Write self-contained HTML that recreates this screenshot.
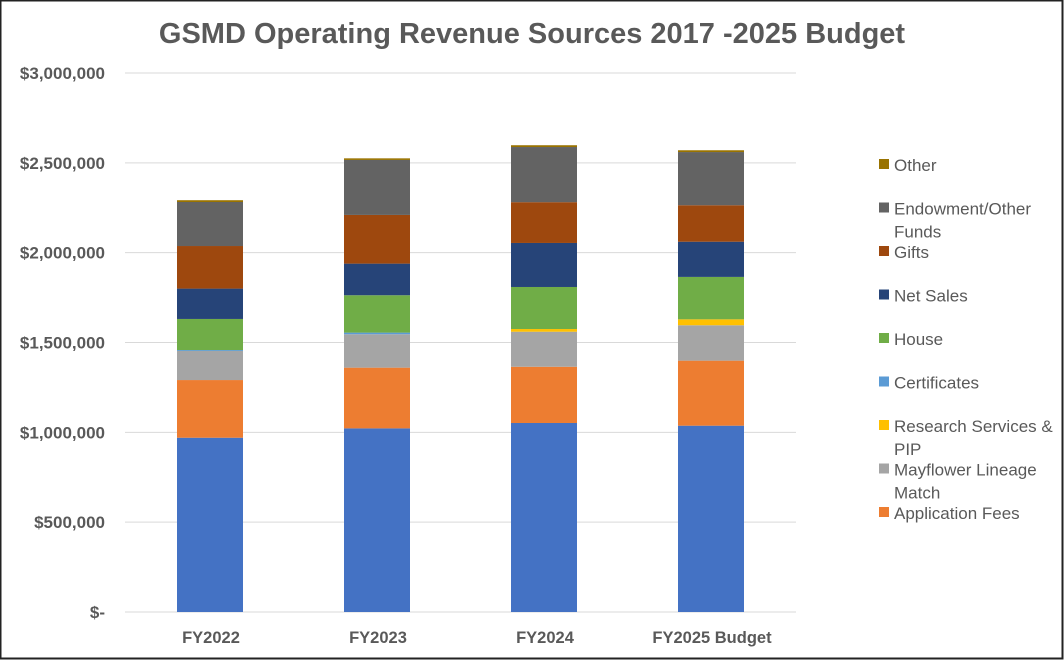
<!DOCTYPE html>
<html><head><meta charset="utf-8"><style>
html,body{margin:0;padding:0;background:#fff}
svg{display:block}
text{font-family:"Liberation Sans",sans-serif}
</style></head><body>
<svg id="chart" width="1064" height="660" viewBox="0 0 1064 660">
<rect x="0.5" y="0.5" width="1062" height="658" fill="#fff" stroke="#222" stroke-width="2"/>
<text x="532" y="43" text-anchor="middle" font-size="29" font-weight="bold" fill="#595959">GSMD Operating Revenue Sources 2017 -2025 Budget</text>
<g id="grid"></g>
<g id="yaxis"></g>
<g id="bars"></g>
<g id="xaxis"></g>
<g id="legend"></g>
</svg>
<script>
const categories = ["FY2022","FY2023","FY2024","FY2025 Budget"];
const seriesNames = ["Dues","Application Fees","Mayflower Lineage Match","Research Services & PIP","Certificates","House","Net Sales","Gifts","Endowment/Other Funds","Other"];
const dues = [970000,1022000,1052000,1037000];
const applicationFees = [321000,338000,313000,362000];
const mayflower = [162000,186000,195000,197000];
const research = [0,0,15000,33000];
const certificates = [5000,9000,0,0];
const house = [173000,208000,234000,236000];
const netSales = [169000,176000,245000,196000];
const gifts = [237000,271000,227000,203000];
const endowment = [245000,306000,307000,296000];
const other = [10000,9000,10000,10000];
const yTicks = [0,500000,1000000,1500000,2000000,2500000,3000000];
const yTickLabels = ["$-","$500,000","$1,000,000","$1,500,000","$2,000,000","$2,500,000","$3,000,000"];

const series = [dues,applicationFees,mayflower,research,certificates,house,netSales,gifts,endowment,other];
const colors = ["#4472C4","#ED7D31","#A5A5A5","#FFC000","#5B9BD5","#70AD47","#264478","#9E480E","#636363","#997300"];
const legendLines = [["Other"],["Endowment/Other","Funds"],["Gifts"],["Net Sales"],["House"],["Certificates"],["Research Services &","PIP"],["Mayflower Lineage","Match"],["Application Fees"]];
const legendIdx = [9,8,7,6,5,4,3,2,1];

const NS="http://www.w3.org/2000/svg";
const plotL=125, plotR=796, plotT=73, plotB=612, yMax=3000000;
const y = v => plotB - v/yMax*(plotB-plotT);
const xC = i => 210 + 167*i;
const barW = 66;
function mk(tag, attrs, parent){const e=document.createElementNS(NS,tag);for(const k in attrs)e.setAttribute(k,attrs[k]);parent.appendChild(e);return e;}

const grid=document.getElementById('grid'), ya=document.getElementById('yaxis');
yTicks.forEach((t,i)=>{
  const l=mk('line',{x1:plotL,x2:plotR,y1:y(t),y2:y(t),stroke:'#d9d9d9','stroke-width':1},grid);
  
  
  const tx=mk('text',{x:105,y:y(t)+6,'text-anchor':'end','font-size':17,'font-weight':'bold',fill:'#595959'},ya);
  tx.textContent=yTickLabels[i];
  
  
});

const bars=document.getElementById('bars'), xa=document.getElementById('xaxis');
categories.forEach((c,i)=>{
  let acc=0;
  series.forEach((s,j)=>{
    const v=s[i]; if(v<=0){return;}
    const r=mk('rect',{x:xC(i)-barW/2,y:y(acc+v),width:barW,height:y(acc)-y(acc+v),fill:colors[j]},bars);
    
    
    acc+=v;
  });
  const tx=mk('text',{x:xC(i)+1,y:643,'text-anchor':'middle','font-size':16.5,'font-weight':'bold',fill:'#595959'},xa);
  tx.textContent=c;
  
  
});

const lg=document.getElementById('legend');
legendIdx.forEach((si,k)=>{
  const yy=165+k*43.5;
  const g=mk('g',{},lg);
  
  
  mk('rect',{x:879,y:yy-6,width:10,height:10,fill:colors[si]},g);
  legendLines[k].forEach((ln,li)=>{
    const t=mk('text',{x:894,y:yy+6+li*23,'font-size':17,fill:'#595959'},g);
    t.textContent=ln;
  });
});
</script>
</body></html>
